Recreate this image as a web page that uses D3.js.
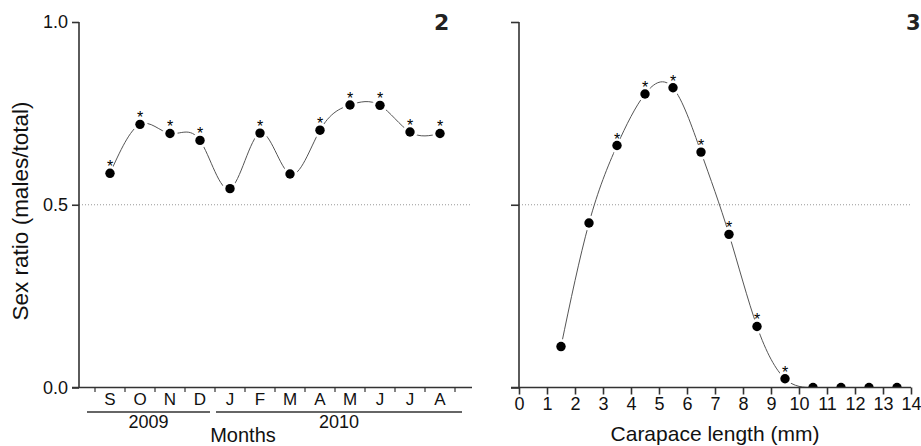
<!DOCTYPE html>
<html>
<head>
<meta charset="utf-8">
<script src="https://cdn.jsdelivr.net/npm/d3@7"></script>
<style>
body { margin: 0; background: #fff; }
svg { display: block; font-family: "Liberation Sans", Arial, sans-serif; }
</style>
</head>
<body>
<script>
// panel 2: monthly sex ratio
var months = ["S", "O", "N", "D", "J", "F", "M", "A", "M", "J", "J", "A"];
var monthRatio = [0.586, 0.720, 0.695, 0.676, 0.544, 0.696, 0.584, 0.704, 0.773, 0.772, 0.699, 0.695];
var monthSig = [1, 1, 1, 1, 0, 1, 0, 1, 1, 1, 1, 1];
var years = ["2009", "2010"];
var yearFirst = [0, 4];
var yearLast = [3, 11];

// panel 3: sex ratio by size class
var lengthClass = [1.5, 2.5, 3.5, 4.5, 5.5, 6.5, 7.5, 8.5, 9.5, 10.5, 11.5, 12.5, 13.5];
var lengthRatio = [0.112, 0.450, 0.662, 0.803, 0.820, 0.644, 0.419, 0.167, 0.024, 0, 0, 0, 0];
var lengthSig = [0, 0, 1, 1, 1, 1, 1, 1, 1, 0, 0, 0, 0];

var yTicks = [0, 0.5, 1];
var xLenTicks = d3.range(0, 15);

var svgWidth = 921;
var svgHeight = 446;
var axisColor = "#333";
var lineColor = "#555";

var svg = d3.select("body").append("svg")
    .attr("width", svgWidth)
    .attr("height", svgHeight);

var yScale = d3.scaleLinear().domain([0, 1]).range([387.5, 22]);

//////////////////////////////
// left panel
//////////////////////////////
var xMonth = d3.scaleBand().domain(d3.range(months.length)).range([95, 455]);
var bw = xMonth.bandwidth();
var monthData = monthRatio.map(function(v, i) { return {x: xMonth(i) + bw / 2, y: yScale(v), sig: monthSig[i]}; });

var left = svg.append("g");

left.append("line")
    .attr("x1", 79).attr("x2", 472)
    .attr("y1", yScale(0.5)).attr("y2", yScale(0.5))
    .attr("stroke", "#999").attr("stroke-dasharray", "1,2");

var line = d3.line().x(function(d) { return d.x; }).y(function(d) { return d.y; }).curve(d3.curveNatural);

left.append("path")
    .datum(monthData)
    .attr("d", line)
    .attr("fill", "none").attr("stroke", lineColor).attr("stroke-width", 1);

left.selectAll(".halo").data(monthData).enter().append("circle")
    .attr("cx", function(d) { return d.x; }).attr("cy", function(d) { return d.y; })
    .attr("r", 7.5).attr("fill", "#fff");

left.selectAll(".dot").data(monthData).enter().append("circle")
    .attr("cx", function(d) { return d.x; }).attr("cy", function(d) { return d.y; })
    .attr("r", 4.7).attr("fill", "#000");

left.selectAll(".star").data(monthData.filter(function(d) { return d.sig; })).enter().append("text")
    .attr("x", function(d) { return d.x; }).attr("y", function(d) { return d.y - 1; })
    .attr("text-anchor", "middle").attr("font-size", 16).attr("fill", "#000")
    .text("*");

// y axis
var yAxisL = left.append("g")
    .attr("transform", "translate(79,0)")
    .call(d3.axisLeft(yScale).tickValues(yTicks).tickFormat(d3.format(".1f")).tickSize(7).tickPadding(4));
yAxisL.select(".domain").attr("d", "M0," + yScale(1) + "V" + yScale(0));
yAxisL.selectAll("path, line").attr("stroke", axisColor).attr("stroke-width", 1.6);
yAxisL.selectAll("text").attr("font-size", 18).attr("font-family", "Liberation Sans, Arial, sans-serif").attr("fill", "#111");

// x axis (months)
left.append("line")
    .attr("x1", 72).attr("x2", 472)
    .attr("y1", yScale(0)).attr("y2", yScale(0))
    .attr("stroke", axisColor).attr("stroke-width", 1.6);

var bounds = d3.range(months.length).map(function(i) { return xMonth(i); }).concat([xMonth(months.length - 1) + bw]);
left.selectAll(".mtick").data(bounds).enter().append("line")
    .attr("x1", function(d) { return d; }).attr("x2", function(d) { return d; })
    .attr("y1", yScale(0)).attr("y2", yScale(0) + 4.5)
    .attr("stroke", axisColor).attr("stroke-width", 1.2);

left.selectAll(".mlabel").data(months).enter().append("text")
    .attr("x", function(d, i) { return xMonth(i) + bw / 2; })
    .attr("y", 405)
    .attr("text-anchor", "middle").attr("font-size", 17).attr("fill", "#111")
    .text(function(d) { return d; });

years.forEach(function(yr, i) {
    var x1 = xMonth(yearFirst[i]) + (i == 0 ? -8 : 1);
    var x2 = xMonth(yearLast[i]) + bw + (i == 0 ? -5 : 7);
    left.append("line")
        .attr("x1", x1).attr("x2", x2).attr("y1", 412).attr("y2", 412)
        .attr("stroke", axisColor).attr("stroke-width", 1.6);
    left.append("text")
        .attr("x", (x1 + x2) / 2).attr("y", 428)
        .attr("text-anchor", "middle").attr("font-size", 18).attr("fill", "#111")
        .text(yr);
});

left.append("text")
    .attr("x", 243).attr("y", 442)
    .attr("text-anchor", "middle").attr("font-size", 20).attr("fill", "#111")
    .text("Months");

left.append("text")
    .attr("transform", "translate(28,211) rotate(-90)")
    .attr("text-anchor", "middle").attr("font-size", 22.5).attr("fill", "#111")
    .text("Sex ratio (males/total)");

left.append("text")
    .attr("x", 434).attr("y", 30)
    .attr("font-family", "DejaVu Sans, sans-serif").attr("font-weight", "bold")
    .attr("font-size", 22).attr("fill", "#222")
    .text("2");

//////////////////////////////
// right panel
//////////////////////////////
var xLen = d3.scaleLinear().domain([0, 14]).range([519, 911]);
var lenData = lengthRatio.map(function(v, i) { return {x: xLen(lengthClass[i]), y: yScale(v), sig: lengthSig[i]}; });

var right = svg.append("g");

svg.append("clipPath").attr("id", "plotclip")
    .append("rect").attr("x", 519).attr("y", 0).attr("width", 400).attr("height", yScale(0));

right.append("line")
    .attr("x1", 519).attr("x2", 911)
    .attr("y1", yScale(0.5)).attr("y2", yScale(0.5))
    .attr("stroke", "#999").attr("stroke-dasharray", "1,2");

var plotR = right.append("g").attr("clip-path", "url(#plotclip)");

plotR.append("path")
    .datum(lenData)
    .attr("d", line)
    .attr("fill", "none").attr("stroke", lineColor).attr("stroke-width", 1);

plotR.selectAll(".halo").data(lenData.filter(function(d) { return d.y < yScale(0); })).enter().append("circle")
    .attr("cx", function(d) { return d.x; }).attr("cy", function(d) { return d.y; })
    .attr("r", 7.5).attr("fill", "#fff");

plotR.selectAll(".dot").data(lenData).enter().append("circle")
    .attr("cx", function(d) { return d.x; }).attr("cy", function(d) { return d.y; })
    .attr("r", 4.7).attr("fill", "#000");

right.selectAll(".star").data(lenData.filter(function(d) { return d.sig; })).enter().append("text")
    .attr("x", function(d) { return d.x; }).attr("y", function(d) { return d.y - 1; })
    .attr("text-anchor", "middle").attr("font-size", 16).attr("fill", "#000")
    .text("*");

var yAxisR = right.append("g")
    .attr("transform", "translate(519,0)")
    .call(d3.axisLeft(yScale).tickValues(yTicks).tickFormat("").tickSize(8));
yAxisR.select(".domain").attr("d", "M0," + yScale(1) + "V" + yScale(0));
yAxisR.selectAll("path, line").attr("stroke", axisColor).attr("stroke-width", 1.6);

var xAxisR = right.append("g")
    .attr("transform", "translate(0," + yScale(0) + ")")
    .call(d3.axisBottom(xLen).tickValues(xLenTicks).tickFormat(d3.format("d")).tickSize(7).tickPadding(3));
xAxisR.select(".domain").attr("d", "M511,0H911");
xAxisR.selectAll("path, line").attr("stroke", axisColor).attr("stroke-width", 1.6);
xAxisR.selectAll("text").attr("font-size", 18).attr("font-family", "Liberation Sans, Arial, sans-serif").attr("fill", "#111");

right.append("text")
    .attr("x", 715).attr("y", 441)
    .attr("text-anchor", "middle").attr("font-size", 21).attr("fill", "#111")
    .text("Carapace length (mm)");

right.append("text")
    .attr("x", 906).attr("y", 30)
    .attr("font-family", "DejaVu Sans, sans-serif").attr("font-weight", "bold")
    .attr("font-size", 21).attr("fill", "#222")
    .text("3");
</script>
</body>
</html>
